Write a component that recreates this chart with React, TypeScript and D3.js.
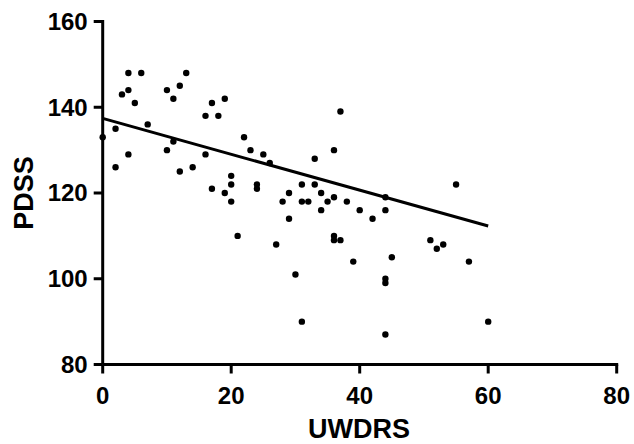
import React from "react";
import * as d3 from "d3";

const uwdrs = [0,2,2,3,4,4,4,5,6,7,10,10,11,11,12,12,13,14,16,16,17,17,18,19,19,20,20,20,21,22,23,24,24,25,26,27,28,29,29,30,31,31,31,32,33,33,34,34,35,36,36,36,36,37,37,38,39,40,42,44,44,44,44,44,45,51,52,53,55,57,60];
const pdss = [133,135,126,143,148,144,129,141,148,136,144,130,142,132,145,125,148,126,138,129,141,121,138,142,120,124,122,118,110,133,130,122,121,129,127,108,118,120,114,101,122,118,90,118,128,122,120,116,118,130,119,110,109,139,109,118,104,116,114,119,116,100,99,87,105,109,107,108,122,104,90];
const fitX = [0, 60];
const fitY = [137.4, 112.3];
const xTicks = [0, 20, 40, 60, 80];
const yTicks = [80, 100, 120, 140, 160];
const xTitle = "UWDRS";
const yTitle = "PDSS";

export default function App() {
  const x = d3.scaleLinear().domain([0, 80]).range([102.7, 616.7]);
  const y = d3.scaleLinear().domain([80, 160]).range([364.5, 21.5]);
  const line = d3.line<number>().x((_, i) => x(fitX[i])).y((_, i) => y(fitY[i]));
  const font = "'Liberation Sans', Arial, sans-serif";
  return (
    <svg width={634} height={444} style={{ position: "absolute", left: 0, top: 0, background: "#fff" }}>
      <g stroke="#000" strokeWidth={3} fill="none">
        <line x1={x(0)} x2={x(0)} y1={y(160) - 1.5} y2={y(80)} />
        <line x1={x(0)} x2={x(80) + 1.5} y1={y(80)} y2={y(80)} />
        {yTicks.map((t) => (
          <line key={"yt" + t} x1={x(0) - 9} x2={x(0)} y1={y(t)} y2={y(t)} />
        ))}
        {xTicks.map((t) => (
          <line key={"xt" + t} x1={x(t)} x2={x(t)} y1={y(80)} y2={y(80) + 9} />
        ))}
        <path d={line(fitX) || ""} />
      </g>
      <g fill="#000">
        {uwdrs.map((v, i) => (
          <circle key={i} cx={x(v)} cy={y(pdss[i])} r={3.2} />
        ))}
      </g>
      <g fontFamily={font} fontWeight="bold" fontSize={24} fill="#000">
        {yTicks.map((t) => (
          <text key={"yl" + t} x={x(0) - 15} y={y(t)} dy="0.35em" textAnchor="end">{t}</text>
        ))}
        {xTicks.map((t) => (
          <text key={"xl" + t} x={x(t)} y={404} textAnchor="middle">{t}</text>
        ))}
      </g>
      <text x={359} y={438} textAnchor="middle" fontFamily={font} fontWeight="bold" fontSize={27}>{xTitle}</text>
      <text transform={`translate(33,${(y(80) + y(160)) / 2}) rotate(-90)`} textAnchor="middle" fontFamily={font} fontWeight="bold" fontSize={27}>{yTitle}</text>
    </svg>
  );
}
